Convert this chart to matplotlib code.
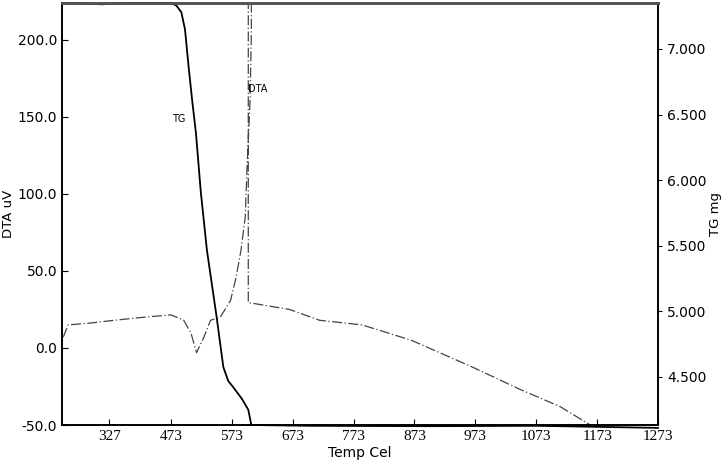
import numpy as np
import matplotlib.pyplot as plt

# temperature tick labels as printed by the instrument
tick_pos = [372, 473, 573, 673, 773, 873, 973, 1073, 1173, 1273]
tick_lbl = ['327', '473', '573', '673', '773', '873', '973', '1073', '1173', '1273']

# DTA curve (uV)
dta_t = [296, 304, 336, 380, 429, 473, 494, 506, 515, 527, 538, 554, 571, 580, 588, 595,
         598, 603, 605, 605, 600, 600, 668, 717, 787, 868, 966, 1047, 1112, 1166, 1200]
dta_v = [7, 15, 16, 18, 20, 21.5, 18, 9.5, -3, 7, 18, 20, 31, 46, 63.5, 85,
         118, 161, 205, 250, 250, 29.5, 25, 18, 15, 5, -12, -27, -38, -51, -55]

# TG curve (mg)
tg_t = [294, 330, 360, 400, 473, 482, 490, 496, 502, 508, 514, 522, 532, 548, 559,
        567, 575, 590, 600, 605, 700, 900, 1073, 1173, 1273]
tg_m = [7.35, 7.345, 7.34, 7.35, 7.35, 7.33, 7.28, 7.15, 6.863, 6.6, 6.36, 5.91, 5.468,
        4.957, 4.576, 4.47, 4.424, 4.33, 4.25, 4.134, 4.128, 4.125, 4.128, 4.12, 4.112]

fig = plt.figure(figsize=(7.25, 4.65), dpi=100)
ax = fig.add_axes([62/725, 40/465, 596/725, 422/465])
ax.plot(dta_t, dta_v, color='#444444', lw=0.9, ls=(0, (8, 2, 1, 2)))
ax.set_xlim(294, 1273)
ax.set_ylim(-50, 224)
ax.set_yticks([-50, 0, 50, 100, 150, 200])
ax.set_yticklabels([f'{v:.1f}' for v in [-50, 0, 50, 100, 150, 200]], fontsize=10)
ax.set_xticks(tick_pos)
ax.set_xticklabels(tick_lbl, fontfamily='Liberation Serif', fontsize=11)
ax.set_xlabel('Temp Cel', fontsize=10, labelpad=2)
ax.set_ylabel('DTA uV', fontsize=9.5, labelpad=2)
ax.tick_params(direction='in', length=4)
ax.text(486, 149, 'TG', fontsize=7, ha='center', va='center')
ax.text(616, 168, 'DTA', fontsize=7, ha='center', va='center')

ax2 = ax.twinx()
ax2.plot(tg_t, tg_m, color='black', lw=1.3, clip_on=False)
ax2.set_ylim(4.134, 7.35)
ax2.set_yticks([4.5, 5.0, 5.5, 6.0, 6.5, 7.0])
ax2.set_yticklabels([f'{v:.3f}' for v in [4.5, 5.0, 5.5, 6.0, 6.5, 7.0]], fontsize=10)
ax2.set_ylabel('TG mg', fontsize=9.5, labelpad=2)
ax2.tick_params(direction='out', length=3)
for a in (ax, ax2):
    for s in a.spines.values():
        s.set_linewidth(1.2)
    a.spines['top'].set_color('#555555')
    a.spines['top'].set_linewidth(2)

fig.savefig('out.png')
